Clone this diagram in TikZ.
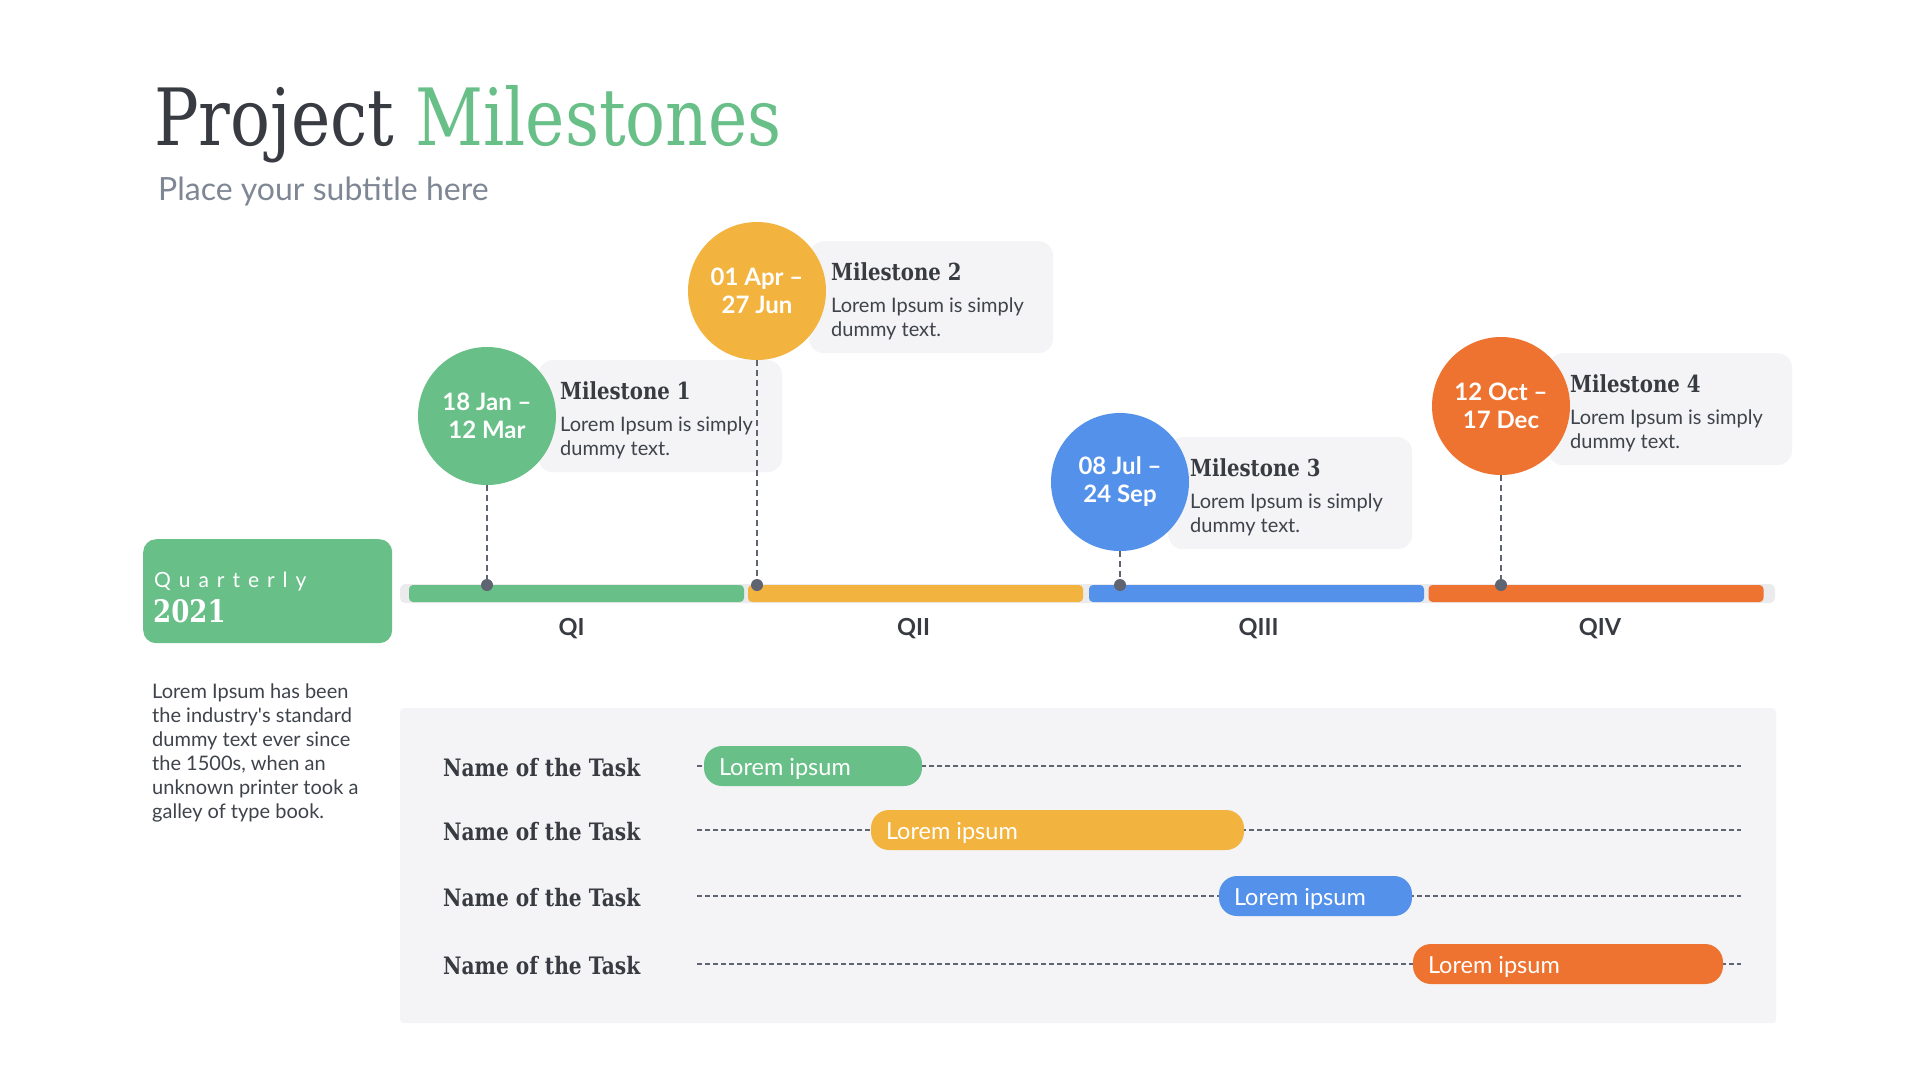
\documentclass[tikz,border=0pt]{standalone}
\usepackage{fontspec}
\setmainfont{Lato}
\newfontfamily\slab[FakeStretch=0.84]{DejaVu Serif}
\newfontfamily\spaced[LetterSpace=38]{Lato}
\usetikzlibrary{calc}
\definecolor{cgreen}{HTML}{68BF87}
\definecolor{cyellow}{HTML}{F2B33F}
\definecolor{cblue}{HTML}{5391EA}
\definecolor{corange}{HTML}{EE7330}
\definecolor{ink}{HTML}{383B41}
\definecolor{body}{HTML}{3F434B}
\definecolor{subgray}{HTML}{7F8795}
\definecolor{panel}{HTML}{F4F4F6}
\definecolor{track}{HTML}{EBEBED}
\definecolor{pin}{HTML}{5E6471}
\begin{document}
\begin{tikzpicture}[x=1pt,y=-1pt,
  mcircle/.style={circle,minimum size=138pt,inner sep=0pt,text=white,align=center,
    font=\fontsize{24}{28}\selectfont\bfseries},
  mbox/.style={fill=panel,rounded corners=15pt,anchor=north west,minimum width=244pt,
    minimum height=112pt,inner sep=0pt},
  mtitle/.style={anchor=base west,inner sep=0pt,text=ink,font=\slab\bfseries\fontsize{23.5}{27}\selectfont},
  mtext/.style={anchor=base west,inner sep=0pt,align=left,text=body,font=\fontsize{20}{24}\selectfont},
  pinline/.style={draw=pin,line width=1.6pt,dash pattern=on 6pt off 4pt},
  pindot/.style={fill=pin},
  seg/.style={rounded corners=4pt,minimum width=335pt,minimum height=17pt,inner sep=0pt},
  qlabel/.style={anchor=base,text=ink,font=\fontsize{23.5}{26}\selectfont\bfseries},
  taskname/.style={anchor=base west,inner sep=0pt,text=ink,font=\slab\bfseries\fontsize{24}{28}\selectfont},
  taskline/.style={draw=pin,line width=1.5pt,dash pattern=on 5pt off 3pt},
  pill/.style={rounded corners=18pt,minimum height=40pt,inner sep=0pt},
  pilltext/.style={anchor=base west,inner sep=0pt,text=white,font=\fontsize{23.5}{26}\selectfont}
]
\useasboundingbox (0,0) rectangle (1920,1080);
\fill[white] (0,0) rectangle (1920,1080);

% title
\node[anchor=base west,inner sep=0pt,font=\slab\fontsize{79}{90}\selectfont] (title) at (154,145)
  {\textcolor{ink}{Project} \textcolor{cgreen}{Milestones}};
\node[anchor=base west,inner sep=0pt,text=subgray,font=\fontsize{32}{36}\selectfont] (subtitle) at (158,200)
  {Place your subtitle here};

% milestone boxes
\node[mbox] (b1) at (538,360) {};
\node[mbox] (b2) at (809,241) {};
\node[mbox] (b3) at (1168,437) {};
\node[mbox] (b4) at (1548,353) {};

\node[mtitle] (t1) at ($(b1.north west)+(22,39)$) {Milestone 1};
\node[mtext] (d1) at ($(b1.north west)+(22,95)$) {Lorem Ipsum is simply\\dummy text.};
\node[mtitle] (t2) at ($(b2.north west)+(22,39)$) {Milestone 2};
\node[mtext] (d2) at ($(b2.north west)+(22,95)$) {Lorem Ipsum is simply\\dummy text.};
\node[mtitle] (t3) at ($(b3.north west)+(22,39)$) {Milestone 3};
\node[mtext] (d3) at ($(b3.north west)+(22,95)$) {Lorem Ipsum is simply\\dummy text.};
\node[mtitle] (t4) at ($(b4.north west)+(22,39)$) {Milestone 4};
\node[mtext] (d4) at ($(b4.north west)+(22,95)$) {Lorem Ipsum is simply\\dummy text.};

% quarter bar
\node[fill=track,rounded corners=5pt,minimum width=1375pt,minimum height=19pt,inner sep=0pt] (track) at (1087.5,593.5) {};
\node[seg,fill=cgreen] (q1) at (576.5,593.5) {};
\node[seg,fill=cyellow] (q2) at (915.5,593.5) {};
\node[seg,fill=cblue] (q3) at (1256.5,593.5) {};
\node[seg,fill=corange] (q4) at (1596,593.5) {};
\node[qlabel] (l1) at ($(q1.center)+(-5,42)$) {QI};
\node[qlabel] (l2) at ($(q2.center)+(-2,42)$) {QII};
\node[qlabel] (l3) at ($(q3.center)+(2,42)$) {QIII};
\node[qlabel] (l4) at ($(q4.center)+(4,42)$) {QIV};

% circles
\node[mcircle,fill=cgreen] (c1) at (487,416) {18 Jan –\\12 Mar};
\node[mcircle,fill=cyellow] (c2) at (757,291) {01 Apr –\\27 Jun};
\node[mcircle,fill=cblue] (c3) at (1120,482) {08 Jul –\\24 Sep};
\node[mcircle,fill=corange] (c4) at (1501,406) {12 Oct –\\17 Dec};

% pins
\coordinate (p1) at (487,585);
\coordinate (p2) at (757,585);
\coordinate (p3) at (1120,585);
\coordinate (p4) at (1501,585);
\draw[pinline] (c1.south) -- (p1);
\draw[pinline] (c2.south) -- (p2);
\draw[pinline] (c3.south) -- (p3);
\draw[pinline] (c4.south) -- (p4);
\fill[pindot] (p1) circle (6);
\fill[pindot] (p2) circle (6);
\fill[pindot] (p3) circle (6);
\fill[pindot] (p4) circle (6);

% quarterly box
\node[fill=cgreen,rounded corners=13pt,anchor=north west,minimum width=249pt,minimum height=104pt,inner sep=0pt] (qbox) at (143,539) {};
\node[anchor=base west,inner sep=0pt,text=white,font=\spaced\fontsize{21}{24}\selectfont] (qt) at (154,587) {Quarterly};
\node[anchor=base west,inner sep=0pt,text=white,font=\slab\bfseries\fontsize{31}{36}\selectfont] (qy) at (153,622) {2021};

% left paragraph (base = last line)
\node[anchor=base west,inner sep=0pt,align=left,text=body,font=\fontsize{20}{24}\selectfont] (para) at (152,818)
  {Lorem Ipsum has been\\the industry\textquotesingle s standard\\dummy text ever since\\the 1500s, when an\\unknown printer took a\\galley of type book.};

% task panel
\node[fill=panel,rounded corners=4pt,anchor=north west,minimum width=1376pt,minimum height=315pt,inner sep=0pt] (panel) at (400,708) {};

\coordinate (r1a) at (697,766); \coordinate (r1b) at (1741,766);
\coordinate (r2a) at (697,830); \coordinate (r2b) at (1741,830);
\coordinate (r3a) at (697,896); \coordinate (r3b) at (1741,896);
\coordinate (r4a) at (697,964); \coordinate (r4b) at (1741,964);
\draw[taskline] (r1a) -- (r1b);
\draw[taskline] (r2a) -- (r2b);
\draw[taskline] (r3a) -- (r3b);
\draw[taskline] (r4a) -- (r4b);

\node[taskname] (n1) at (443,776) {Name of the Task};
\node[taskname] (n2) at (443,840) {Name of the Task};
\node[taskname] (n3) at (443,906) {Name of the Task};
\node[taskname] (n4) at (443,974) {Name of the Task};

\node[pill,fill=cgreen,minimum width=218pt] (k1) at (813,766) {};
\node[pill,fill=cyellow,minimum width=373pt] (k2) at (1057.5,830) {};
\node[pill,fill=cblue,minimum width=193pt] (k3) at (1315.5,896) {};
\node[pill,fill=corange,minimum width=310pt] (k4) at (1568,964) {};
\node[pilltext] (kt1) at ($(k1.west)+(15,9)$) {Lorem ipsum};
\node[pilltext] (kt2) at ($(k2.west)+(15,9)$) {Lorem ipsum};
\node[pilltext] (kt3) at ($(k3.west)+(15,9)$) {Lorem ipsum};
\node[pilltext] (kt4) at ($(k4.west)+(15,9)$) {Lorem ipsum};
\end{tikzpicture}
\end{document}
